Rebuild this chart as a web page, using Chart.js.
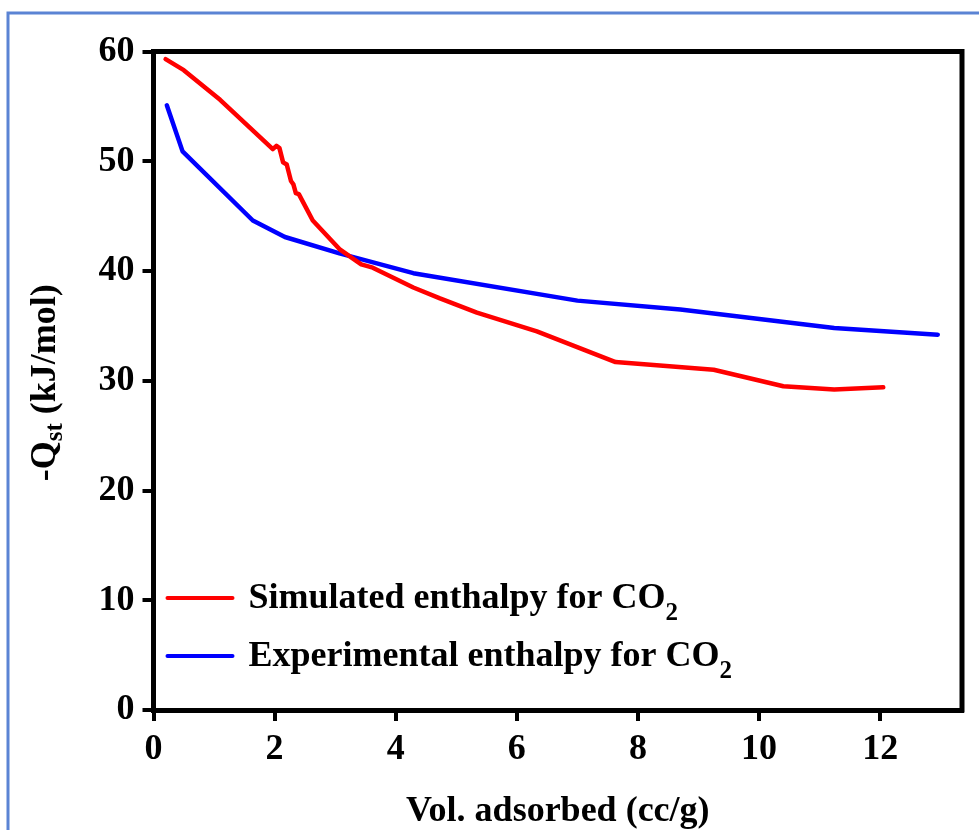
<!DOCTYPE html>
<html>
<head>
<meta charset="utf-8">
<title>Isosteric heat of CO2 adsorption</title>
<script src="https://cdn.jsdelivr.net/npm/chart.js"></script>
<style>
  html, body { margin: 0; padding: 0; background: #fff; }
  #wrap { width: 979px; height: 830px; position: relative; }
</style>
</head>
<body>
<div id="wrap"><canvas id="qstChart" width="979" height="830"></canvas></div>
<script>
// --- data -------------------------------------------------------------
const simX = [0.2, 0.5, 1.1, 1.97, 2.03, 2.08, 2.14, 2.2, 2.27, 2.31, 2.35, 2.4, 2.63, 3.07, 3.43, 3.62, 4.29, 4.73, 5.34, 6.33, 7.63, 9.25, 10.4, 11.24, 12.05];
const simY = [59.3, 58.3, 55.6, 51.1, 51.4, 51.2, 49.9, 49.7, 48.2, 47.9, 47.1, 47.0, 44.6, 42.0, 40.6, 40.3, 38.5, 37.5, 36.2, 34.5, 31.7, 31.0, 29.5, 29.2, 29.4];
const expX = [0.22, 0.48, 1.64, 2.17, 3.07, 4.29, 7.0, 8.7, 11.24, 12.95];
const expY = [55.1, 50.9, 44.6, 43.1, 41.6, 39.8, 37.3, 36.5, 34.8, 34.2];
const seriesNames = ["Simulated enthalpy for CO2", "Experimental enthalpy for CO2"];
const xTitle = "Vol. adsorbed (cc/g)";
const yTitleParts = [["-Q", false], ["st", true], [" (kJ/mol)", false]];

const FONT = '"Liberation Serif", "Times New Roman", serif';

const toPoints = (xs, ys) => xs.map((x, i) => ({ x: x, y: ys[i] }));

// draw a run of text pieces, some of them as subscripts
function drawRich(ctx, parts, x, y, size, subSize, subDrop) {
  let cx = x;
  parts.forEach(([txt, sub]) => {
    ctx.font = "bold " + (sub ? subSize : size) + "px " + FONT;
    ctx.fillText(txt, cx, sub ? y + subDrop : y);
    cx += ctx.measureText(txt).width;
  });
  return cx - x;
}
function richWidth(ctx, parts, size, subSize) {
  let w = 0;
  parts.forEach(([txt, sub]) => {
    ctx.font = "bold " + (sub ? subSize : size) + "px " + FONT;
    w += ctx.measureText(txt).width;
  });
  return w;
}

// page frame, closed plot box, rotated y title and the in-plot legend
const decorations = {
  id: "decorations",
  beforeDraw(chart) {
    const ctx = chart.ctx;
    ctx.save();
    ctx.strokeStyle = "#5b84d4";
    ctx.lineWidth = 3;
    ctx.beginPath();
    ctx.moveTo(1000, 13);
    ctx.lineTo(8, 13);
    ctx.lineTo(8, 850);
    ctx.stroke();
    ctx.restore();
  },
  afterDraw(chart) {
    const ctx = chart.ctx;
    const a = chart.chartArea;
    ctx.save();

    // top and right edges of the box
    ctx.strokeStyle = "#000";
    ctx.lineWidth = 5;
    ctx.beginPath();
    ctx.moveTo(a.left, a.top);
    ctx.lineTo(a.right, a.top);
    ctx.lineTo(a.right, a.bottom + 2.5);
    ctx.stroke();

    // y axis title with subscript
    ctx.fillStyle = "#000";
    ctx.textBaseline = "alphabetic";
    ctx.textAlign = "left";
    const w = richWidth(ctx, yTitleParts, 36, 25);
    ctx.translate(55, (a.top + a.bottom) / 2 + 2);
    ctx.rotate(-Math.PI / 2);
    drawRich(ctx, yTitleParts, -w / 2, 0, 36, 25, 7);
    ctx.setTransform(1, 0, 0, 1, 0, 0);

    // legend
    const rows = [a.bottom - 112, a.bottom - 54];
    chart.data.datasets.forEach((ds, i) => {
      const y = rows[i];
      ctx.strokeStyle = ds.borderColor;
      ctx.lineWidth = 4;
      ctx.lineCap = "round";
      ctx.beginPath();
      ctx.moveTo(a.left + 14, y);
      ctx.lineTo(a.left + 79, y);
      ctx.stroke();
      const label = ds.label;
      const parts = [[label.slice(0, -1), false], [label.slice(-1), true]];
      ctx.fillStyle = "#000";
      drawRich(ctx, parts, a.left + 95, y + 10, 36, 25, 12);
    });
    ctx.restore();
  }
};

new Chart(document.getElementById("qstChart"), {
  type: "line",
  data: {
    datasets: [
      {
        label: seriesNames[0],
        data: toPoints(simX, simY),
        borderColor: "#ff0000",
        borderWidth: 4.5,
        borderJoinStyle: "round",
        borderCapStyle: "round",
        pointRadius: 0,
        tension: 0,
        fill: false
      },
      {
        label: seriesNames[1],
        data: toPoints(expX, expY),
        borderColor: "#0000ff",
        borderWidth: 4.5,
        borderJoinStyle: "round",
        borderCapStyle: "round",
        pointRadius: 0,
        tension: 0,
        fill: false
      }
    ]
  },
  options: {
    responsive: false,
    animation: false,
    layout: { padding: { top: 51.5, right: 17, left: 0, bottom: 0 } },
    plugins: {
      legend: { display: false },
      tooltip: { enabled: false }
    },
    scales: {
      x: {
        type: "linear",
        min: 0,
        max: 13.35,
        afterFit: (scale) => { scale.height = 120; },
        border: { display: true, color: "#000", width: 5 },
        grid: { drawOnChartArea: false, drawTicks: true, tickLength: 11, color: "#000", lineWidth: 4 },
        ticks: {
          stepSize: 2,
          includeBounds: false,
          color: "#000",
          padding: 7,
          font: { family: FONT, size: 36, weight: "bold" }
        },
        title: {
          display: true,
          text: xTitle,
          color: "#000",
          padding: { top: 0, bottom: 0 },
          font: { family: FONT, size: 36, weight: "bold", lineHeight: 1 }
        }
      },
      y: {
        min: 0,
        max: 60,
        afterFit: (scale) => { scale.width = 153.5; },
        border: { display: true, color: "#000", width: 5 },
        grid: { drawOnChartArea: false, drawTicks: true, tickLength: 11, color: "#000", lineWidth: 4 },
        ticks: {
          stepSize: 10,
          color: "#000",
          padding: 8,
          font: { family: FONT, size: 36, weight: "bold" }
        }
      }
    }
  },
  plugins: [decorations]
});
</script>
</body>
</html>
